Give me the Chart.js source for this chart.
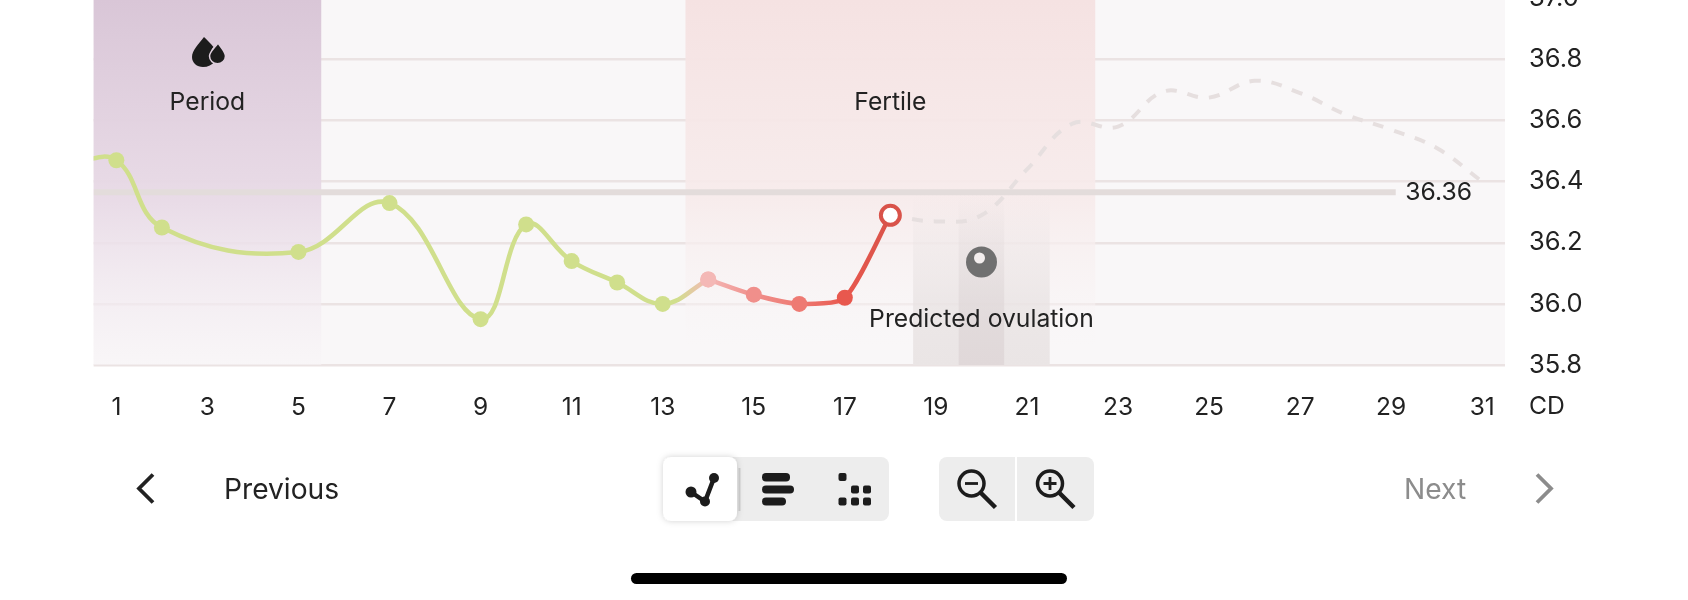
<!DOCTYPE html>
<html><head><meta charset="utf-8">
<script src="https://cdn.jsdelivr.net/npm/chart.js@4"></script>
<style>
html,body{margin:0;padding:0;background:#fff;width:1688px;height:600px;overflow:hidden;font-family:Inter,sans-serif}
#c{position:absolute;left:0;top:-41px}
#ui{position:absolute;left:0;top:0}
.t{position:absolute;font-size:28.2px;line-height:32px;color:#222}
</style></head><body>
<canvas id="c" width="1688" height="481"></canvas>
<svg id="ui" width="1688" height="600" viewBox="0 0 1688 600" fill="none">
  <!-- drops -->
  <path d="M204 37C199 44 192 50 192 57C192 63 197 67 203 67C208 67 212 65 215 61C210 56 210 50 213.500 47C210.500 43 207 40 204 37Z" fill="#1c1c1c"/>
  <path d="M218 43C214.500 48 209.500 52 209.500 56C209.500 60.500 213.300 63.800 217.500 63.800C221.700 63.800 225.500 60.500 225.500 56C225.500 52 221.500 48 218 43Z" fill="#1c1c1c" stroke="#dfcfdd" stroke-width="1.500"/>
  <!-- ovulation egg -->
  <circle cx="981.500" cy="262" r="15.500" fill="#707070"/>
  <circle cx="979.500" cy="258" r="5.500" fill="#f3eeee"/>
  <!-- prev / next chevrons -->
  <path d="M153 474.500L139 488.500L153 502.500" stroke="#222" stroke-width="3.800"/>
  <path d="M1537 474.500L1551 488.500L1537 502.500" stroke="#8c8c8c" stroke-width="3.800"/>
  <!-- segmented control -->
  <rect x="663" y="457" width="226" height="64" rx="8" fill="#ededed"/>
  <line x1="739.500" y1="468" x2="739.500" y2="511" stroke="#cfcfcf" stroke-width="2"/>
  <defs><filter id="sh" x="-20%" y="-20%" width="140%" height="140%"><feDropShadow dx="0" dy="0" stdDeviation="3" flood-color="#000" flood-opacity=".18"/></filter></defs>
  <rect x="663" y="457" width="74" height="64" rx="8" fill="#fff" filter="url(#sh)"/>
  <path d="M691 492L705 501.500L714 478" stroke="#1c1c1c" stroke-width="4.500"/>
  <circle cx="691" cy="492" r="5.500" fill="#1c1c1c"/><circle cx="705" cy="501.500" r="5" fill="#1c1c1c"/><circle cx="714" cy="478" r="5" fill="#1c1c1c"/>
  <rect x="762" y="473" width="28" height="8.500" rx="4" fill="#1c1c1c"/>
  <rect x="762" y="485.500" width="32" height="8" rx="4" fill="#1c1c1c"/>
  <rect x="762" y="497.500" width="24" height="8" rx="4" fill="#1c1c1c"/>
  <g fill="#1c1c1c">
    <rect x="838.500" y="473" width="8" height="8" rx="2"/>
    <rect x="851" y="485.500" width="8" height="8" rx="2"/><rect x="863" y="485.500" width="8" height="8" rx="2"/>
    <rect x="838.500" y="497.500" width="8" height="8" rx="2"/><rect x="851" y="497.500" width="8" height="8" rx="2"/><rect x="863" y="497.500" width="8" height="8" rx="2"/>
  </g>
  <!-- zoom control -->
  <rect x="939" y="457" width="155" height="64" rx="8" fill="#ededed"/>
  <line x1="1016" y1="457" x2="1016" y2="521" stroke="#fff" stroke-width="2"/>
  <g stroke="#1c1c1c" fill="none">
    <circle cx="971.500" cy="483.500" r="12.500" stroke-width="3.500"/>
    <path d="M981 493L995.500 507.500" stroke-width="4.500"/>
    <path d="M965 483.500H978" stroke-width="2.800"/>
    <circle cx="1050" cy="483.500" r="12.500" stroke-width="3.500"/>
    <path d="M1059.500 493L1074 507.500" stroke-width="4.500"/>
    <path d="M1043.500 483.500H1056.500M1050 477V490" stroke-width="2.800"/>
  </g>
  <!-- home indicator -->
  <rect x="631" y="573" width="436" height="11" rx="5.500" fill="#000"/>
</svg>
<div class="t" style="left:224px;top:473px">Previous</div>
<div class="t" style="left:1404px;top:473px;color:#8c8c8c">Next</div>
<script>
// measured temperatures (days without a reading are simply absent)
const tempDays   = [0,1,2,5,7,9,10,11,12,13,14];
const tempValues = [36.46,36.47,36.25,36.17,36.33,35.95,36.26,36.14,36.07,36.00,36.08];
const pointColors = ['#d0df8c','#d0df8c','#d0df8c','#d0df8c','#d0df8c','#d0df8c','#d0df8c','#d0df8c','#d0df8c','#d0df8c','#f4b8b6'];
const lateDays   = [14,15,16,17,18];
const lateValues = [36.08,36.03,36.00,36.02,36.29];
const lateColors = ['#f4b8b6','#f08f8b','#ee7a73','#e8584e','#ffffff'];
// predicted curve
const predDays   = [18,19,20,21,22,23,24,25,26,27,28,29,30,31];
const predValues = [36.29,36.27,36.29,36.44,36.59,36.58,36.695,36.675,36.73,36.69,36.62,36.57,36.51,36.40];
// cover line
const coverDays   = [0.5,29.1];
const coverValues = [36.365,36.365];
const coverLabel  = '36.36';
// axes
const xTicks = [1,3,5,7,9,11,13,15,17,19,21,23,25,27,29,31];
const xUnit = 'CD';
// phases [from, to]
const periodBand = [0.5,5.5];
const fertileBand = [13.5,22.5];
const ovulationOuter = [18.5,21.5];
const ovulationInner = [19.5,20.5];
const lineStops = [[13.3,'#d0df8c'],[14,'#f4b8b6'],[15,'#f08f8b'],[16,'#ee7a73'],[17,'#e8584e'],[18,'#d9534a']];

const FONT = 'Inter, sans-serif';
const PAGE_OFFSET = 41;
const zip = (xs,ys)=>xs.map((x,i)=>({x,y:ys[i]}));

function band(c,ch,range,top,stops){
  const sx=ch.scales.x,a=ch.chartArea;
  const l=sx.getPixelForValue(range[0]),r=sx.getPixelForValue(range[1]);
  const g=c.createLinearGradient(0,top,0,a.bottom);
  stops.forEach(s=>g.addColorStop(s[0],s[1]));
  c.fillStyle=g;c.fillRect(l,top,r-l,a.bottom-top);
}
function lineGradient(ctx){
  const ch=ctx.chart;if(!ch.chartArea)return '#d0df8c';
  const sx=ch.scales.x,g=ch.ctx.createLinearGradient(sx.left,0,sx.right,0);
  g.addColorStop(0,'#d0df8c');
  lineStops.forEach(s=>g.addColorStop((sx.getPixelForValue(s[0])-sx.left)/(sx.right-sx.left),s[1]));
  g.addColorStop(1,'#d9534a');
  return g;
}
const decor={
  id:'decor',
  beforeDraw(ch){
    const c=ch.ctx,a=ch.chartArea;
    c.save();c.fillStyle='#f9f7f8';c.fillRect(a.left,0,a.width,a.bottom);c.restore();
  },
  beforeDatasetsDraw(ch){
    const c=ch.ctx,a=ch.chartArea,sy=ch.scales.y;
    c.save();
    band(c,ch,periodBand,PAGE_OFFSET,[[0,'rgba(217,198,215,1)'],[.55,'rgba(232,218,230,.95)'],[1,'rgba(248,245,247,.55)']]);
    band(c,ch,fertileBand,PAGE_OFFSET,[[0,'rgba(245,226,226,1)'],[.55,'rgba(247,235,235,.9)'],[.95,'rgba(249,247,248,.35)'],[1,'rgba(249,247,248,0)']]);
    const t=sy.getPixelForValue(36.36);
    band(c,ch,ovulationOuter,t,[[0,'rgba(232,226,226,0)'],[.6,'rgba(232,226,226,.7)'],[1,'rgba(234,229,229,1)']]);
    band(c,ch,ovulationInner,t,[[0,'rgba(222,214,215,0)'],[.6,'rgba(222,214,215,.6)'],[1,'rgba(224,216,217,1)']]);
    c.restore();
  },
  afterDatasetsDraw(ch){
    const c=ch.ctx,sx=ch.scales.x,sy=ch.scales.y;
    c.save();
    c.fillStyle='#222';c.textAlign='center';c.textBaseline='middle';c.font='24.7px '+FONT;
    const yT=PAGE_OFFSET+102.500;
    c.fillText('Period',sx.getPixelForValue(3),yT);
    c.fillText('Fertile',sx.getPixelForValue(18),yT);
    c.fillText('Predicted ovulation',sx.getPixelForValue(20),PAGE_OFFSET+319.500);
    c.fillText(coverLabel,sx.getPixelForValue(30)+2,sy.getPixelForValue(coverValues[0]));
    c.textAlign='left';
    c.fillText(xUnit,1529,PAGE_OFFSET+406.500);
    c.restore();
  }
};

new Chart(document.getElementById('c'),{
  type:'line',
  data:{datasets:[
    {label:'Temperature',data:zip(tempDays,tempValues),order:1,tension:.4,borderWidth:4.5,
     borderColor:lineGradient,
     pointRadius:tempDays.map(d=>d<1?0:8),
     pointBackgroundColor:pointColors,pointBorderColor:pointColors,pointBorderWidth:0},
    {label:'Temperature late',data:zip(lateDays,lateValues),order:0,tension:.22,borderWidth:4.5,
     borderColor:lineGradient,
     pointRadius:lateDays.map((d,i)=>i===lateDays.length-1?9.5:8),
     pointBackgroundColor:lateColors,
     pointBorderColor:lateColors.map((p,i)=>i===lateColors.length-1?'#d9534a':p),
     pointBorderWidth:lateDays.map((d,i)=>i===lateDays.length-1?4:0)},
    {label:'Prediction',data:zip(predDays,predValues),order:2,tension:.4,borderWidth:4,
     borderColor:'#e6dfdf',borderDash:[11,11],pointRadius:0},
    {label:'Cover line',data:zip(coverDays,coverValues),order:3,tension:0,borderWidth:6,
     borderColor:'#e3dcdb',pointRadius:0,borderCapStyle:'butt'}
  ]},
  options:{
    responsive:false,animation:false,maintainAspectRatio:false,
    layout:{padding:{left:93.6,top:16.2,right:0,bottom:0}},
    plugins:{legend:{display:false},tooltip:{enabled:false}},
    scales:{
      x:{type:'linear',min:.5,max:31.5,
        afterBuildTicks(s){s.ticks=xTicks.map(v=>({value:v}));},
        afterFit(s){s.height=75;},
        grid:{display:false},border:{display:false},
        ticks:{padding:19.5,color:'#222',font:{family:FONT,size:24.5},maxRotation:0,autoSkip:false,callback:v=>String(v)}},
      y:{position:'right',min:35.8,max:37,
        afterFit(s){s.width=183;},
        grid:{color:'#ebe3e3',lineWidth:2.500,drawTicks:false},border:{display:false},
        ticks:{stepSize:.2,padding:24,color:'#222',font:{family:FONT,size:25.5},callback:v=>v.toFixed(1)}}
    }
  },
  plugins:[decor]
});
</script>
</body></html>
